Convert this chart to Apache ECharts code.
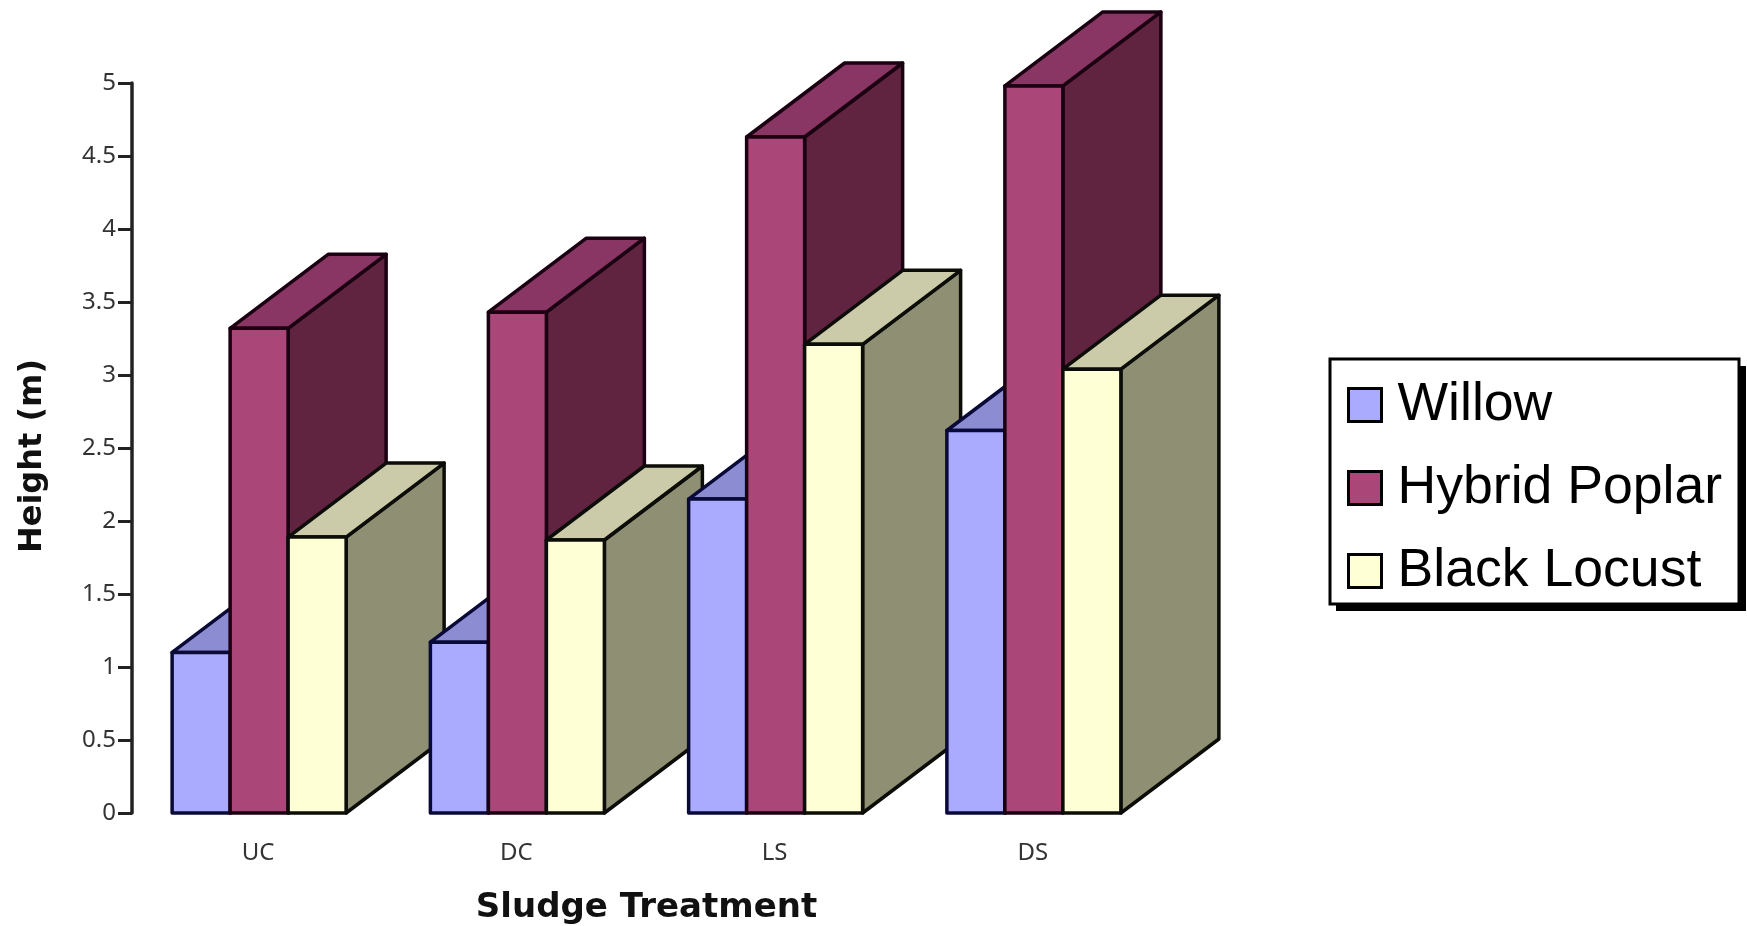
<!DOCTYPE html>
<html>
<head>
<meta charset="utf-8">
<title>Height by sludge treatment</title>
<script src="https://cdn.jsdelivr.net/npm/echarts@6/dist/echarts.min.js"></script>
<style>
  html, body { margin: 0; padding: 0; background: #ffffff; }
  #main { width: 1747px; height: 926px; }
</style>
</head>
<body>
<div id="main"></div>
<script>
const categories = ['UC', 'DC', 'LS', 'DS']
const willow = [1.10, 1.17, 2.15, 2.62]
const hybridPoplar = [3.32, 3.43, 4.63, 4.98]
const blackLocust = [1.89, 1.87, 3.21, 3.04]

// fixed oblique offset of the back face, px
const depthX = 98
const depthY = 74
const barWidth = 58

const build3dSeries = (name, values, seriesIndex, colors) => ({
  name,
  type: 'custom',
  data: values.map((v, i) => [i, v]),
  encode: { x: 0, y: 1 },
  itemStyle: { color: colors.front },
  clip: false,
  silent: true,
  renderItem: (params, api) => {
    const catIndex = api.value(0)
    const top = api.coord([catIndex, api.value(1)])
    const base = api.coord([catIndex, 0])
    const x0 = top[0] + (seriesIndex - 1.5) * barWidth
    const x1 = x0 + barWidth
    const yT = top[1]
    const yB = base[1]
    const edge = { stroke: colors.edge, lineWidth: 3.5, lineJoin: 'round' }
    // later categories paint over earlier ones, like the original
    const order = catIndex * 10 + seriesIndex
    return {
      type: 'group',
      children: [
        {
          type: 'polygon',
          z2: order,
          shape: { points: [[x1, yB], [x1 + depthX, yB - depthY], [x1 + depthX, yT - depthY], [x1, yT]] },
          style: { fill: colors.side, ...edge }
        },
        {
          type: 'polygon',
          z2: order,
          shape: { points: [[x0, yT], [x0 + depthX, yT - depthY], [x1 + depthX, yT - depthY], [x1, yT]] },
          style: { fill: colors.top, ...edge }
        },
        {
          type: 'rect',
          z2: order + 1,
          shape: { x: x0, y: yT, width: barWidth, height: yB - yT },
          style: { fill: colors.front, ...edge }
        }
      ]
    }
  }
})

const chart = echarts.init(document.getElementById('main'))
const option = {
  backgroundColor: '#ffffff',
  animation: false,
  grid: { left: 130, top: 83, width: 1033, height: 730, outerBoundsMode: 'none' },
  xAxis: {
    type: 'category',
    data: categories,
    axisLine: { show: false },
    axisTick: { show: false },
    axisLabel: { color: '#333333', fontFamily: 'Noto Sans', fontSize: 24, margin: 28, padding: [0, 2, 0, 0] },
    name: 'Sludge Treatment',
    nameLocation: 'middle',
    nameGap: 78,
    nameTextStyle: { color: '#111111', fontFamily: 'DejaVu Sans', fontWeight: 'bold', fontSize: 34 }
  },
  yAxis: {
    type: 'value',
    min: 0,
    max: 5,
    interval: 0.5,
    offset: -2,
    splitLine: { show: false },
    axisLine: { show: true, lineStyle: { color: '#222222', width: 3.5 } },
    axisTick: { show: true, length: 14, lineStyle: { color: '#222222', width: 3 } },
    axisLabel: { color: '#333333', fontFamily: 'Noto Sans', fontSize: 24, margin: 16 },
    name: 'Height (m)',
    nameLocation: 'middle',
    nameGap: 83,
    nameTextStyle: { color: '#111111', fontFamily: 'DejaVu Sans', fontWeight: 'bold', fontSize: 32, padding: [0, 0, 0, -16] }
  },
  legend: {
    orient: 'vertical',
    left: 1347,
    top: 378,
    selectedMode: false,
    icon: 'rect',
    itemWidth: 33,
    itemHeight: 33,
    itemGap: 29,
    padding: 0,
    itemStyle: { borderColor: '#000000', borderWidth: 3 },
    textStyle: { color: '#000000', fontFamily: 'Liberation Sans', fontSize: 53.6, padding: [0, 0, 0, 11] },
    data: ['Willow', 'Hybrid Poplar', 'Black Locust']
  },
  // legend frame with its hard drop shadow
  graphic: [
    { type: 'rect', z: 1, silent: true, shape: { x: 1336, y: 366, width: 410, height: 245 }, style: { fill: '#000000' } },
    { type: 'rect', z: 1, silent: true, shape: { x: 1330, y: 359, width: 409, height: 245 }, style: { fill: '#ffffff', stroke: '#000000', lineWidth: 3 } }
  ],
  series: [
    build3dSeries('Willow', willow, 0, { front: '#aaaaff', top: '#8c8cd2', side: '#6e6ea6', edge: '#0a0a38' }),
    build3dSeries('Hybrid Poplar', hybridPoplar, 1, { front: '#aa4678', top: '#8a3664', side: '#602340', edge: '#1a0010' }),
    build3dSeries('Black Locust', blackLocust, 2, { front: '#ffffd6', top: '#cbcbaa', side: '#8f8f74', edge: '#0c0c08' })
  ]
}
chart.setOption(option)
</script>
</body>
</html>
